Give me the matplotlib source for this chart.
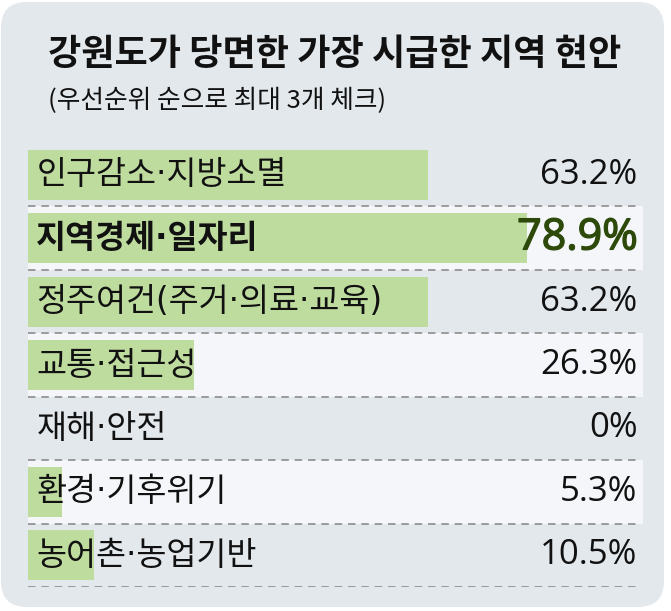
import matplotlib
matplotlib.use("Agg")
import matplotlib.pyplot as plt
import matplotlib.patheffects as pe
from matplotlib.patches import FancyBboxPatch, Rectangle

plt.rcParams['font.family'] = ['Noto Sans CJK KR', 'DejaVu Sans']

title = "강원도가 당면한 가장 시급한 지역 현안"
subtitle = "(우선순위 순으로 최대 3개 체크)"
labels = ["인구감소·지방소멸", "지역경제·일자리", "정주여건(주거·의료·교육)",
          "교통·접근성", "재해·안전", "환경·기후위기", "농어촌·농업기반"]
values = [63.2, 78.9, 63.2, 26.3, 0, 5.3, 10.5]
value_text = ["63.2%", "78.9%", "63.2%", "26.3%", "0%", "5.3%", "10.5%"]
highlight = 1

W, H = 671, 611
panel_color = "#e3e8ed"
stripe_color = "#f4f6f9"
bar_color = "#bfdc9f"
dash_color = "#8c8c8c"
hi_color = "#2d4a0b"

fig = plt.figure(figsize=(W / 100, H / 100), dpi=100)
fig.patch.set_facecolor("white")

# rounded background panel (figure pixel coords)
panel = FancyBboxPatch((1, 4), 663, 605, boxstyle="round,pad=0,rounding_size=26",
                       transform=None, facecolor=panel_color, edgecolor="none",
                       zorder=-5)
fig.patches.append(panel)

fig.text(48 / W, 1 - 55 / H, title, fontsize=26, fontweight="bold",
         va="center", ha="left", color="#111111")
fig.text(48 / W, 1 - 101 / H, subtitle, fontsize=18.5,
         va="center", ha="left", color="#111111")

# chart area
left, right, top, bottom = 28, 643, 143, 587
ax = fig.add_axes([left / W, 1 - bottom / H, (right - left) / W, (bottom - top) / H])
ax.set_facecolor("none")
n = len(labels)
xmax = 97.2
ax.set_xlim(0, xmax)
ax.set_ylim(n, 0)
ax.axis("off")

for i in range(n):
    if i % 2 == 1:
        ax.add_patch(Rectangle((0, i), xmax, 1, facecolor=stripe_color,
                               edgecolor="none", zorder=0))

ax.barh([i + 0.5 for i in range(n)], values, height=0.79, left=0,
        color=bar_color, zorder=1)

for i in range(1, n + 1):
    ax.plot([0, xmax * 0.988], [i, i], color=dash_color, lw=1.2,
            dashes=(4.5, 3.5), zorder=2)

label_family = ["DejaVu Sans", "Noto Sans CJK KR"]
num_family = ["Open Sans", "DejaVu Sans"]
for i, (lab, vt) in enumerate(zip(labels, value_text)):
    bold = i == highlight
    ax.annotate(lab, xy=(0, i + 0.5), xytext=(6, 0), textcoords="offset points",
                ha="left", va="center", fontsize=23.5, family=label_family,
                fontweight="bold" if bold else "normal", color="#111111", zorder=3)
    if bold:
        ax.annotate(vt, xy=(1, i + 0.5), xycoords=("axes fraction", "data"),
                    xytext=(-4, 0), textcoords="offset points", ha="right",
                    va="center", fontsize=31,
                    family=num_family, color=hi_color, zorder=3,
                    path_effects=[pe.withStroke(linewidth=1.0, foreground=hi_color)])
    else:
        ax.annotate(vt, xy=(1, i + 0.5), xycoords=("axes fraction", "data"),
                    xytext=(-4, 0), textcoords="offset points", ha="right",
                    va="center", fontsize=25,
                    family=num_family, color="#111111", zorder=3)

fig.savefig("out.png", dpi=100)
